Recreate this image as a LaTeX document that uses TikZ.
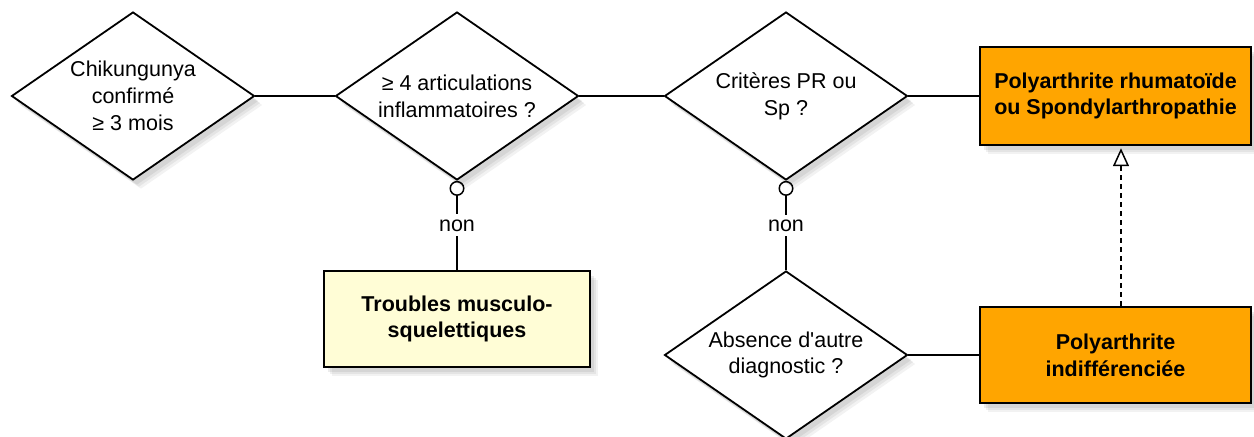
\documentclass[tikz,border=0pt]{standalone}
\usepackage{fontspec}
\setmainfont{Liberation Sans}
\usetikzlibrary{shapes.geometric,arrows.meta,shadows}
\definecolor{boxorange}{HTML}{FFA500}
\definecolor{boxyellow}{HTML}{FFFDD6}
\begin{document}
\begin{tikzpicture}[x=0.5pt,y=-0.5pt,
  font=\fontsize{10.75}{13.4}\selectfont,
  shade/.style={
    drop shadow={opacity=0.10, shadow xshift=4pt, shadow yshift=-4.5pt},
    drop shadow={opacity=0.12, shadow xshift=3pt, shadow yshift=-3.5pt},
    drop shadow={opacity=0.15, shadow xshift=2pt, shadow yshift=-2.5pt}},
  decision/.style={diamond, draw, line width=0.9pt, fill=white, shape aspect=1.446,
    minimum width=121.5pt, minimum height=84pt, inner sep=0pt, align=center, shade},
  outcome/.style={rectangle, draw, line width=1.2pt, align=center,
    font=\fontsize{10.75}{13.4}\selectfont\bfseries, shade},
  link/.style={line width=0.75pt},
  nolabel/.style={fill=white, inner sep=2.5pt}]
\useasboundingbox (0,0) rectangle (1254,436);

\node[decision] (chik) at (133,96) {Chikungunya\\confirmé\\≥ 3 mois};
\node[decision] (artic) at (457,96) {≥ 4 articulations\\inflammatoires ?};
\node[decision] (crit) at (786,96) {Critères PR ou\\Sp ?};
\node[decision] (absence) at (786,355) {Absence d\textquotesingle autre\\diagnostic ?};

\node[outcome, fill=boxorange, minimum width=135.5pt, minimum height=49pt] (pr) at (1115.5,96)
  {Polyarthrite rhumatoïde\\ou Spondylarthropathie};
\node[outcome, fill=boxorange, minimum width=135.5pt, minimum height=48pt] (indiff) at (1115.5,355)
  {Polyarthrite\\indifférenciée};
\node[outcome, fill=boxyellow, minimum width=133pt, minimum height=48pt] (tms) at (457,319)
  {Troubles musculo-\\squelettiques};

\draw[link] (chik) -- (artic);
\draw[link] (artic) -- (crit);
\draw[link] (crit) -- (pr);
\draw[link] (absence) -- (indiff);
\draw[link, {Circle[open, length=7.5pt]}-] (artic.south) -- node[nolabel] {non} (tms.north);
\draw[link, {Circle[open, length=7.5pt]}-] (crit.south) -- node[nolabel] {non} (absence.north);
\draw[link, dash pattern=on 2.5pt off 2pt, -{Triangle[open, length=9pt, width=8pt]}]
  ([xshift=2.75pt]indiff.north) -- ([xshift=2.75pt, yshift=-1pt]pr.south);
\end{tikzpicture}
\end{document}
